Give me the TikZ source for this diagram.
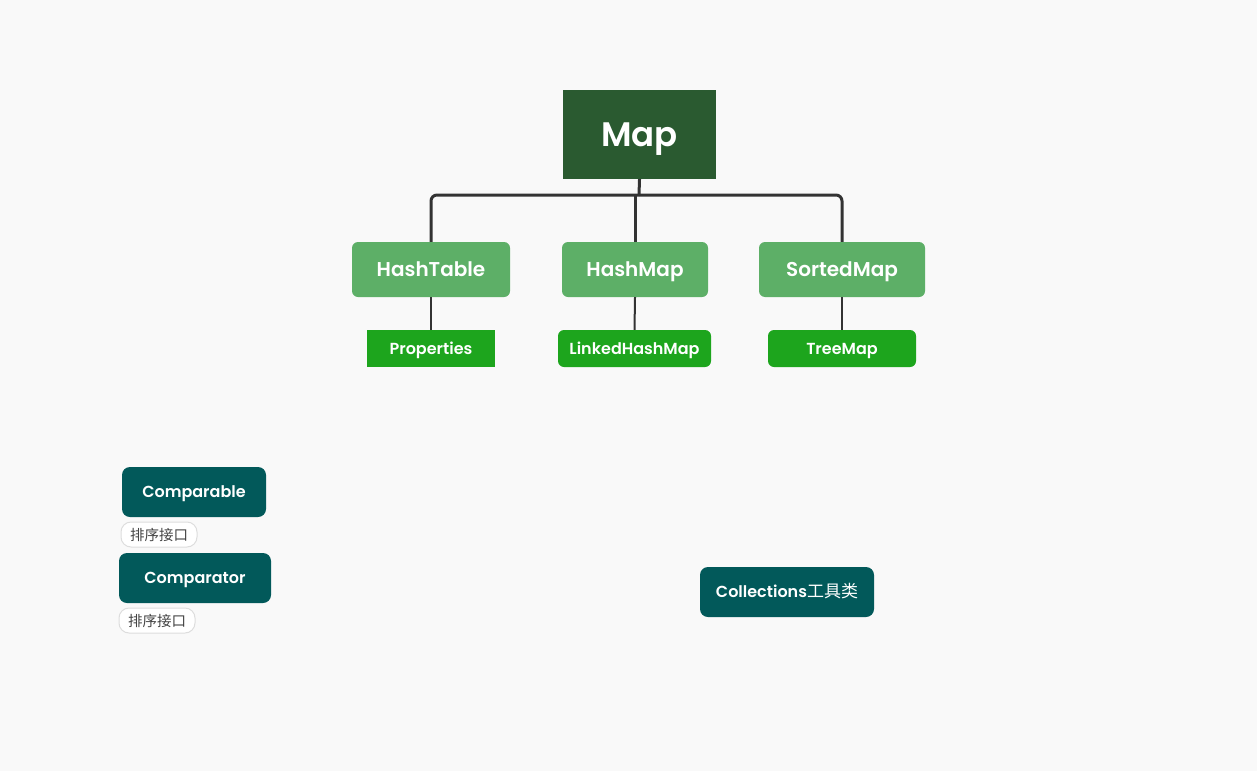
\documentclass[tikz,border=0pt]{standalone}
\usepackage{fontspec}
\setmainfont{Poppins}[BoldFont={Poppins SemiBold}]
\newfontfamily\cjk{Noto Sans CJK SC}
\begin{document}
\begin{tikzpicture}[x=1pt,y=-1pt,
  base/.style={inner sep=0pt, text=white, font=\bfseries, text depth=0pt},
  rootbox/.style={base, fill=mapgreen, minimum width=153pt, minimum height=89pt, text height=24pt, font=\bfseries\fontsize{34}{38}\selectfont},
  midbox/.style={base, fill=midgreen, rounded corners=6pt, minimum height=55pt, text height=14pt, font=\bfseries\fontsize{20}{24}\selectfont},
  leafbox/.style={base, fill=leafgreen, rounded corners=6pt, minimum height=37pt, text height=11pt, font=\bfseries\fontsize{16}{20}\selectfont},
  tealbox/.style={base, fill=teal, rounded corners=8pt, minimum height=50pt, text height=11pt, font=\bfseries\fontsize{16}{20}\selectfont},
  tagbox/.style={inner sep=0pt, fill=white, draw=taggray, line width=1pt, rounded corners=10pt, minimum width=76pt, minimum height=25pt, text=tagtext, font=\cjk\fontsize{14.5}{16}\selectfont},
  mainline/.style={draw=linegray, line width=3pt},
  subline/.style={draw=linegray, line width=2pt}
]
\definecolor{bg}{HTML}{F9F9F9}
\definecolor{mapgreen}{HTML}{2A5A30}
\definecolor{midgreen}{HTML}{5DAF67}
\definecolor{leafgreen}{HTML}{1DA51D}
\definecolor{teal}{HTML}{02595A}
\definecolor{taggray}{HTML}{DDDDDD}
\definecolor{tagtext}{HTML}{444444}
\definecolor{linegray}{HTML}{333333}
\fill[bg] (0,0) rectangle (1257,771);
\useasboundingbox (0,0) rectangle (1257,771);

\node[rootbox] (map) at (639.5,134.5) {Map};
\node[midbox, minimum width=158pt] (ht) at (431,269.5) {HashTable};
\node[midbox, minimum width=146pt] (hm) at (635,269.5) {HashMap};
\node[midbox, minimum width=166pt] (sm) at (842,269.5) {SortedMap};
\node[leafbox, rounded corners=0pt, minimum width=128pt] (pr) at (431,348.5) {Properties};
\node[leafbox, minimum width=153pt] (lhm) at (634.5,348.5) {LinkedHashMap};
\node[leafbox, minimum width=148pt] (tm) at (842,348.5) {TreeMap};

\coordinate (j) at (639,195);
\draw[mainline] (map.south) -- (j);
\draw[mainline, rounded corners=6pt] (j) -| (ht.north);
\draw[mainline, rounded corners=6pt] (j) -| (sm.north);
\draw[mainline] (hm.north) -- (hm.north |- j);

\draw[subline] (ht.south) -- (pr.north);
\draw[subline] (hm.south) -- (lhm.north);
\draw[subline] (sm.south) -- (tm.north);

\node[tealbox, minimum width=144pt] (cmp1) at (194,492) {Comparable};
\node[tagbox] (tag1) at (159,534.5) {排序接口};
\node[tealbox, minimum width=152pt] (cmp2) at (195,578) {Comparator};
\node[tagbox] (tag2) at (157,620.5) {排序接口};
\node[tealbox, minimum width=174pt] (coll) at (787,592) {Collections{\cjk\mdseries\fontsize{17}{20}\selectfont 工具类}};
\end{tikzpicture}
\end{document}
